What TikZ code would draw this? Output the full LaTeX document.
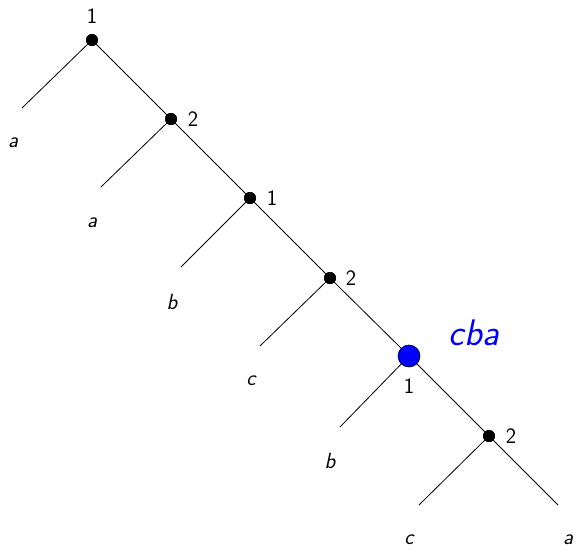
\documentclass[tikz,border=0pt]{standalone}
\begin{document}
\begin{tikzpicture}[x=1pt,y=-1pt,
  dot/.style={circle,fill=black,inner sep=0pt,minimum size=12pt},
  bigdot/.style={circle,fill=blue,draw=black,line width=0.6pt,inner sep=0pt,minimum size=22pt},
  leaf/.style={inner sep=0pt,font=\fontsize{22}{26}\selectfont\sffamily\itshape},
  num/.style={inner sep=0pt,font=\fontsize{22}{26}\selectfont\sffamily},
  edge/.style={line width=0.8pt}]
\useasboundingbox (0,0) rectangle (576,549);
% internal nodes
\node[dot] (n1) at (92,40) {};
\node[dot] (n2) at (171,119) {};
\node[dot] (n3) at (250,198) {};
\node[dot] (n4) at (330,278) {};
\node[dot] (n6) at (489,436) {};
% leaf line ends
\coordinate (l1) at (22,108);
\coordinate (l2) at (101,187);
\coordinate (l3) at (181,267);
\coordinate (l4) at (260,346);
\coordinate (l5) at (340,427);
\coordinate (l6) at (419,505);
\coordinate (r6) at (558,505);
\coordinate (c5) at (409,356);
% edges
\draw[edge] (n1.center) -- (n2.center) -- (n3.center) -- (n4.center) -- (c5) -- (n6.center) -- (r6);
\draw[edge] (n1.center) -- (l1);
\draw[edge] (n2.center) -- (l2);
\draw[edge] (n3.center) -- (l3);
\draw[edge] (n4.center) -- (l4);
\draw[edge] (c5) -- (l5);
\draw[edge] (n6.center) -- (l6);
\node[bigdot] (n5) at (c5) {};
% redraw dots on top
\node[dot] at (n1) {};
\node[dot] at (n2) {};
\node[dot] at (n3) {};
\node[dot] at (n4) {};
\node[dot] at (n6) {};
% numbers
\node[num] (t1) at (92,16) {1};
\node[num] (t2) at (193,119) {2};
\node[num] (t3) at (272,198) {1};
\node[num] (t4) at (351,278) {2};
\node[num] (t5) at (409,386) {1};
\node[num] (t6) at (511,436) {2};
% leaf labels
\node[leaf] (a1) at (13,143) {a};
\node[leaf] (a2) at (92,223) {a};
\node[leaf] (b1) at (172,302) {b};
\node[leaf] (c1) at (251,381) {c};
\node[leaf] (b2) at (330,461) {b};
\node[leaf] (c2) at (409,540) {c};
\node[leaf] (a3) at (568,540) {a};
\node[leaf,text=blue,font=\fontsize{37}{42}\selectfont\sffamily\itshape] (cba) at (474,333) {cba};
\end{tikzpicture}
\end{document}
